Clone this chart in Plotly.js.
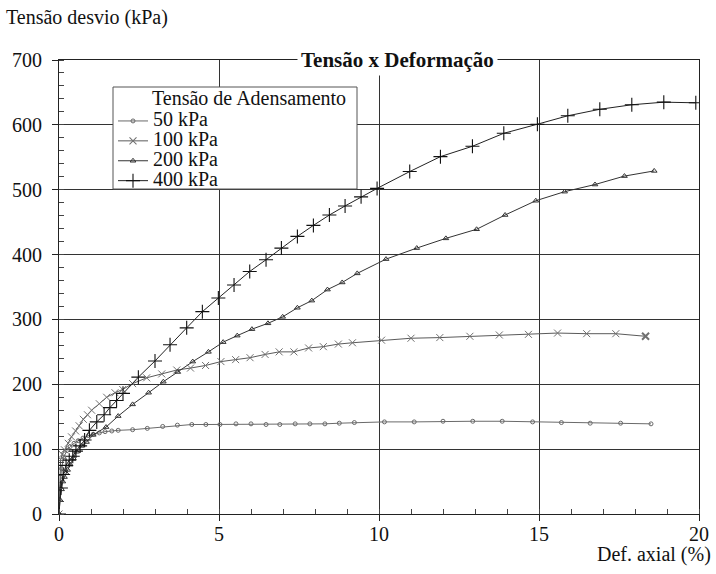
<!DOCTYPE html>
<html>
<head>
<meta charset="utf-8">
<script src="https://cdn.plot.ly/plotly-3.0.1.min.js"></script>
<style>html,body{margin:0;padding:0;background:#fff;}#chart{width:716px;height:574px;}</style>
</head>
<body>
<div id="chart"></div>
<script>
// Series names (legend)
const seriesNames = ["50 kPa", "100 kPa", "200 kPa", "400 kPa"];
const legendTitle = "Tensão de Adensamento";
const chartTitle = "Tensão x Deformação";
const yTitle = "Tensão desvio (kPa)";
const xTitle = "Def. axial (%)";
const xTickVals = [0, 5, 10, 15, 20];
const yTickVals = [0, 100, 200, 300, 400, 500, 600, 700];

// 50 kPa
const x50 = [0, 0.03, 0.08, 0.15, 0.25, 0.35, 0.47, 0.6, 0.75, 0.92, 1.07, 1.26, 1.44, 1.65, 1.85, 2.3, 2.76, 3.24, 3.7, 4.15, 4.59, 5.03, 5.53, 6.0, 6.47, 6.9, 7.38, 7.84, 8.31, 8.76, 9.23, 10.17, 11.1, 12.0, 12.93, 13.85, 14.8, 15.7, 16.6, 17.55, 18.5];
const y50 = [0, 40, 70, 88, 98, 104, 109, 113, 117, 121, 123, 125, 127, 128, 129, 130, 132, 135, 137, 138, 138, 138, 139, 139, 138, 138, 139, 139, 139, 140, 141, 142, 142, 143, 143, 143, 142, 141, 140, 140, 139];

// 100 kPa
const x100 = [0, 0.05, 0.1, 0.17, 0.29, 0.39, 0.52, 0.63, 0.76, 0.89, 1.02, 1.26, 1.49, 1.75, 1.99, 2.3, 2.74, 3.21, 3.68, 4.11, 4.58, 5.06, 5.52, 5.97, 6.44, 6.88, 7.34, 7.8, 8.26, 8.73, 9.17, 10.08, 11.0, 11.9, 12.84, 13.76, 14.67, 15.58, 16.49, 17.4, 18.33];
const y100 = [0, 84, 92, 99, 109, 119, 128, 136, 146, 153, 160, 170, 180, 187, 192, 201, 210, 216, 222, 225, 229, 235, 238, 241, 246, 250, 250, 256, 258, 262, 264, 268, 271, 272, 274, 276, 277, 279, 278, 278, 274];

// 200 kPa
const x200 = [0, 0.03, 0.08, 0.12, 0.17, 0.22, 0.27, 0.35, 0.45, 0.55, 0.71, 0.86, 1.07, 1.47, 1.85, 2.3, 2.8, 3.26, 3.71, 4.18, 4.67, 5.13, 5.57, 6.03, 6.53, 6.99, 7.45, 7.9, 8.39, 8.85, 9.32, 10.22, 11.18, 12.09, 13.05, 13.94, 14.9, 15.8, 16.75, 17.67, 18.6];
const y200 = [0, 22, 38, 50, 57, 63, 68, 76, 86, 96, 105, 111, 122, 134, 151, 169, 187, 204, 219, 235, 250, 265, 275, 285, 294, 304, 318, 329, 346, 357, 371, 393, 410, 425, 439, 461, 483, 497, 508, 521, 529];

// 400 kPa
const x400 = [0, 0.06, 0.13, 0.22, 0.32, 0.43, 0.53, 0.66, 0.8, 0.95, 1.18, 1.41, 1.59, 1.8, 2.0, 2.48, 3.0, 3.47, 3.99, 4.48, 4.98, 5.47, 5.96, 6.47, 6.95, 7.45, 7.95, 8.45, 8.94, 9.44, 9.94, 10.96, 11.92, 12.92, 13.9, 14.95, 15.9, 16.9, 17.9, 18.9, 19.9];
const y400 = [0, 40, 61, 75, 83, 89, 97, 105, 114, 129, 142, 153, 164, 175, 186, 211, 236, 261, 287, 312, 333, 353, 374, 392, 410, 428, 445, 461, 475, 489, 502, 528, 551, 567, 587, 601, 614, 624, 631, 635, 634];

const FONT = "Liberation Serif, Times New Roman, serif";
const bigName = n => '<span style="font-size:20px">' + n + '</span>';

const last100 = x100.map((v, i) => i === x100.length - 1 ? "#111" : "#707070");
const lastW100 = x100.map((v, i) => i === x100.length - 1 ? 2 : 1);

const traces = [
  {x: x50, y: y50, name: bigName(seriesNames[0]), mode: "lines+markers",
   line: {color: "#6a6a6a", width: 1},
   marker: {symbol: "circle-open", size: 4, color: "#6a6a6a", line: {width: 1, color: "#6a6a6a"}}},
  {x: x100, y: y100, name: bigName(seriesNames[1]), mode: "lines+markers",
   line: {color: "#5a5a5a", width: 1},
   marker: {symbol: "x-thin-open", size: 7, color: "#707070", line: {width: lastW100, color: last100}}},
  {x: x200, y: y200, name: bigName(seriesNames[2]), mode: "lines+markers",
   line: {color: "#333", width: 1},
   marker: {symbol: "triangle-up-open", size: 5, color: "#333", line: {width: 1, color: "#333"}}},
  {x: x400, y: y400, name: bigName(seriesNames[3]), mode: "lines+markers",
   line: {color: "#222", width: 1},
   marker: {symbol: "cross-thin-open", size: 10, color: "#111", line: {width: 1.1, color: "#111"}}}
];

const px = p => (p - 59) / 640;      // pixel -> paper x
const py = p => (514 - p) / 454;     // pixel -> paper y

const layout = {
  width: 716, height: 574,
  margin: {l: 59, r: 17, t: 60, b: 60},
  paper_bgcolor: "#fff", plot_bgcolor: "#fff",
  font: {family: FONT, size: 20, color: "#111"},
  showlegend: true,
  legend: {
    x: px(113), y: py(106), xanchor: "left", yanchor: "top",
    bgcolor: "rgba(0,0,0,0)", borderwidth: 0,
    font: {family: FONT, size: 13, color: "#111"},
    itemwidth: 30, tracegroupgap: 0
  },
  xaxis: {
    range: [0, 20], tickvals: xTickVals, ticktext: xTickVals.map(String),
    showgrid: true, gridcolor: "#333", gridwidth: 1,
    zeroline: false, showline: true, linecolor: "#222", linewidth: 1, mirror: true,
    ticks: "outside", ticklen: 6, tickcolor: "#222", ticklabelstandoff: -4,
    minor: {dtick: 1, ticks: "inside", ticklen: 5, tickcolor: "#444", showgrid: false},
    tickfont: {family: FONT, size: 20, color: "#111"}
  },
  yaxis: {
    range: [0, 700], tickvals: yTickVals, ticktext: yTickVals.map(String),
    showgrid: true, gridcolor: "#333", gridwidth: 1,
    zeroline: false, showline: true, linecolor: "#222", linewidth: 1, mirror: true,
    ticks: "outside", ticklen: 6, tickcolor: "#222", ticklabelstandoff: 6,
    minor: {dtick: 20, ticks: "inside", ticklen: 5, tickcolor: "#444", showgrid: false},
    tickfont: {family: FONT, size: 20, color: "#111"}
  },
  shapes: [
    {type: "rect", xref: "paper", yref: "paper", layer: "above",
     x0: px(113), x1: px(357), y0: py(189), y1: py(87),
     line: {color: "#555", width: 1}, fillcolor: "#fff"}
  ],
  annotations: [
    {text: "<b>" + chartTitle + "</b>", xref: "paper", yref: "paper",
     x: px(397), y: 1, xanchor: "center", yanchor: "middle", showarrow: false,
     bgcolor: "#fff", borderpad: 3, font: {family: FONT, size: 21, color: "#111"}},
    {text: yTitle, xref: "paper", yref: "paper", x: px(4), y: py(18),
     xanchor: "left", yanchor: "middle", showarrow: false,
     font: {family: FONT, size: 20, color: "#111"}},
    {text: xTitle, xref: "paper", yref: "paper", x: px(713), y: py(554),
     xanchor: "right", yanchor: "middle", showarrow: false,
     font: {family: FONT, size: 20, color: "#111"}},
    {text: legendTitle, xref: "paper", yref: "paper", x: px(150), y: py(98),
     xanchor: "left", yanchor: "middle", showarrow: false,
     font: {family: FONT, size: 20, color: "#111"}}
  ]
};

Plotly.newPlot("chart", traces, layout, {displayModeBar: false, staticPlot: true});
</script>
</body>
</html>
